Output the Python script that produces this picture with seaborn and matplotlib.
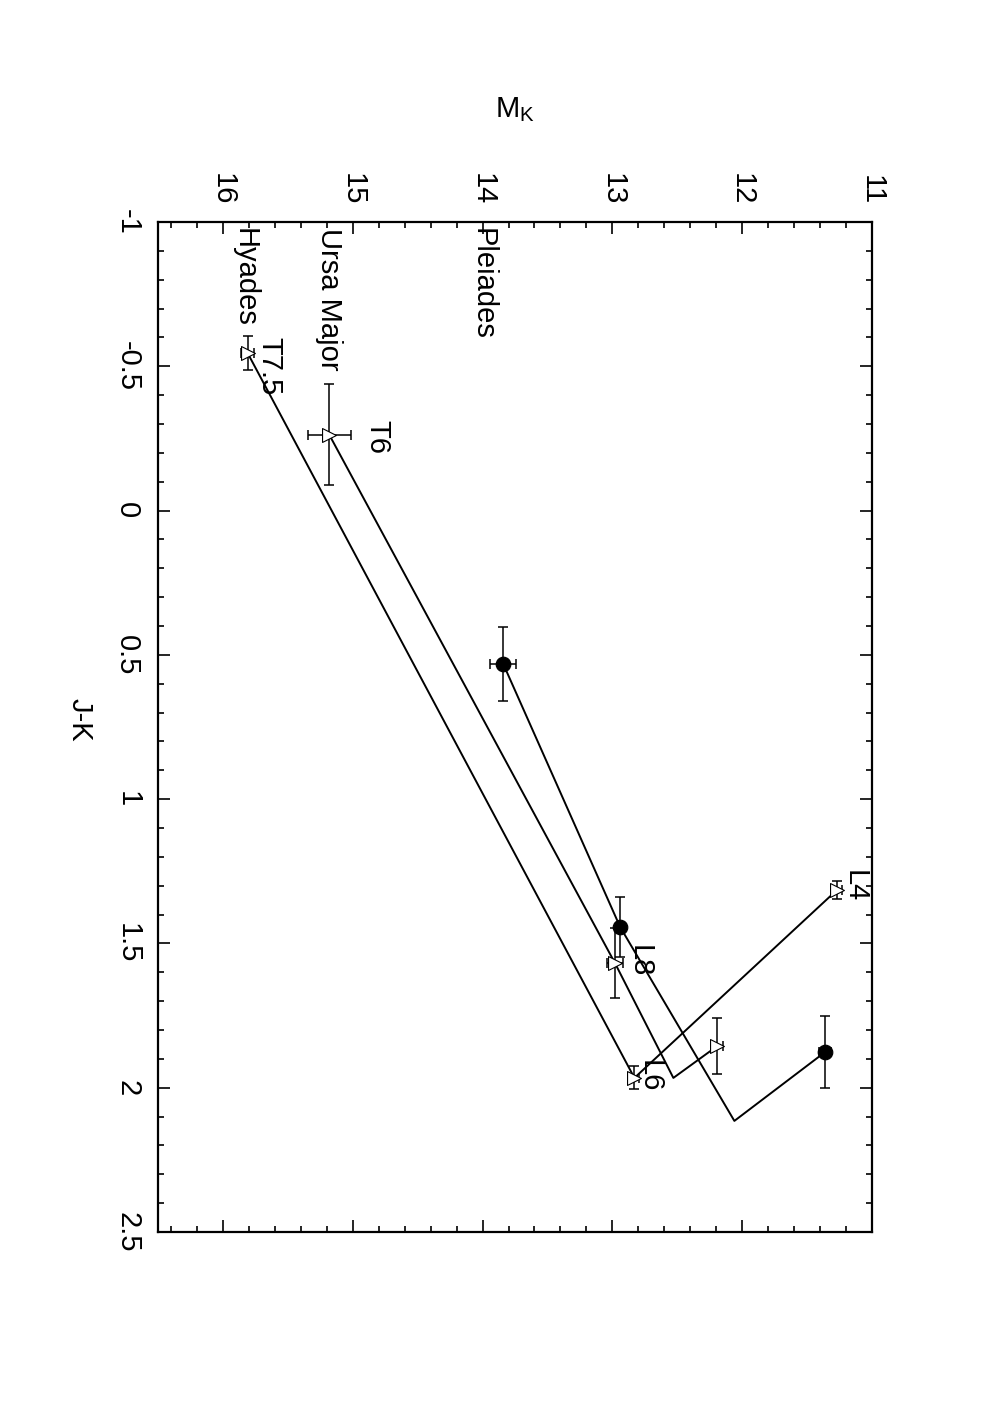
import numpy as np
import pandas as pd
import matplotlib
matplotlib.use("Agg")
import matplotlib.pyplot as plt
import seaborn as sns
from matplotlib.ticker import MultipleLocator

sns.set_theme(style="ticks")
plt.rcParams['font.family'] = ['Liberation Sans', 'DejaVu Sans']
plt.rcParams['text.color'] = 'black'
plt.rcParams['xtick.color'] = 'black'
plt.rcParams['ytick.color'] = 'black'
plt.rcParams['xtick.labelcolor'] = 'black'
plt.rcParams['ytick.labelcolor'] = 'black'

# ---- data (M_K on horizontal, J-K on vertical, figure is rotated) ----
hy_mk = [15.81, 12.83, 11.27]
hy_jk = [-0.546, 1.966, 1.315]
hy_mkerr = [0.05, 0.035, 0.04]
hy_jkerr = [0.06, 0.04, 0.03]
hy_marked = [True, True, True]

um_mk = [15.18, 12.98, 12.53, 12.19]
um_jk = [-0.262, 1.568, 1.966, 1.855]
um_mkerr = [0.165, 0.065, 0.0, 0.04]
um_jkerr = [0.175, 0.12, 0.0, 0.097]
um_marked = [True, True, False, True]

pl_mk = [13.84, 12.94, 12.06, 11.36]
pl_jk = [0.532, 1.443, 2.115, 1.876]
pl_mkerr = [0.10, 0.03, 0.0, 0.045]
pl_jkerr = [0.128, 0.104, 0.0, 0.125]
pl_marked = [True, True, False, True]

cluster_names = ["Pleiades", "Ursa Major", "Hyades"]
cluster_pos = [(14.00, -0.98), (15.18, -0.98), (15.83, -0.98)]
spt_labels = ["T7.5", "T6", "L4", "L8", "L6"]
spt_pos = [(15.64, -0.60), (14.81, -0.314), (11.13, 1.245), (12.79, 1.505), (12.71, 1.904)]

mk_ticks = [16, 15, 14, 13, 12, 11]
jk_ticks = [-1, -0.5, 0, 0.5, 1, 1.5, 2, 2.5]
jk_ticklabels = ["-1", "-0.5", "0", "0.5", "1", "1.5", "2", "2.5"]

FS = 21

fig = plt.figure(figsize=(9.92, 14.04), dpi=100)
ax = fig.add_axes([0.1593, 0.1225, 0.7197, 0.7194])

series = [
    ("Hyades", hy_mk, hy_jk, hy_mkerr, hy_jkerr, hy_marked, "tri"),
    ("Ursa Major", um_mk, um_jk, um_mkerr, um_jkerr, um_marked, "tri"),
    ("Pleiades", pl_mk, pl_jk, pl_mkerr, pl_jkerr, pl_marked, "circ"),
]

for name, mk, jk, mke, jke, marked, kind in series:
    df = pd.DataFrame({"mk": mk, "jk": jk, "mke": mke, "jke": jke, "m": marked})
    sns.lineplot(data=df, x="mk", y="jk", sort=False, estimator=None,
                 color="black", lw=1.4, ax=ax)
    dm = df[df["m"]]
    ax.errorbar(dm["mk"], dm["jk"], xerr=dm["mke"], yerr=dm["jke"], fmt="none",
                ecolor="black", elinewidth=1.1, capsize=3.6, capthick=1.1, zorder=3)
    if kind == "tri":
        sns.scatterplot(data=dm, x="mk", y="jk", marker=">", s=100,
                        facecolor="white", edgecolor="black", linewidth=0.8,
                        ax=ax, zorder=4)
    else:
        sns.scatterplot(data=dm, x="mk", y="jk", marker="o", s=110,
                        color="black", edgecolor="black", ax=ax, zorder=4)

for t, (x, y) in zip(cluster_names, cluster_pos):
    ax.text(x, y, t, rotation=-90, ha="center", va="top", fontsize=FS, color="black")
for t, (x, y) in zip(spt_labels, spt_pos):
    ax.text(x, y, t, rotation=-90, ha="center", va="top", fontsize=FS, color="black")

ax.set_xlim(16.5, 11)
ax.set_ylim(2.5, -1)

ax.set_xticks(mk_ticks)
ax.set_xticklabels([str(v) for v in mk_ticks], rotation=-90, fontsize=FS)
ax.set_yticks(jk_ticks)
ax.set_yticklabels(jk_ticklabels, rotation=-90, fontsize=FS, va="center")
ax.xaxis.set_minor_locator(MultipleLocator(0.2))
ax.yaxis.set_minor_locator(MultipleLocator(0.1))

ax.tick_params(which="both", direction="in", top=True, bottom=True, left=True, right=True,
               labeltop=True, labelbottom=False, color="black", width=1.2)
ax.tick_params(which="major", length=8.5)
ax.tick_params(which="minor", length=4.3)
ax.tick_params(axis="x", which="major", pad=12)
ax.tick_params(axis="y", which="major", pad=12)

for s in ax.spines.values():
    s.set_linewidth(1.6)
    s.set_color("black")

ax.set_xlabel("")
ax.set_ylabel("")
fig.text(515 / 992, 1 - 110 / 1404, r"$\mathregular{M_K}$", ha="center", va="center", fontsize=FS)
fig.text(80 / 992, 1 - 720 / 1404, "J-K", rotation=-90, ha="center", va="center", fontsize=FS)

fig.savefig("out.png", dpi=100, facecolor="white")
